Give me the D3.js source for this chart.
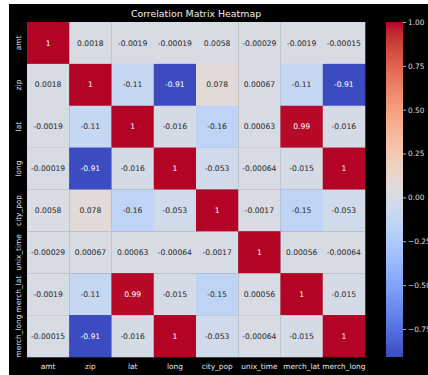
<!DOCTYPE html>
<html>
<head>
<meta charset="utf-8">
<script src="https://cdn.jsdelivr.net/npm/d3@7"></script>
<style>
  html, body { margin: 0; padding: 0; background: #ffffff; }
  svg { display: block; }
  text { font-family: "DejaVu Sans", sans-serif; }
</style>
</head>
<body>
<svg id="chart" width="428" height="375"></svg>
<script>
// Variables of the correlation matrix (rows and columns share the same order)
const variables = ["amt", "zip", "lat", "long", "city_pop", "unix_time", "merch_lat", "merch_long"];

// One row of correlation coefficients per variable
const amtRow       = [1, 0.0018, -0.0019, -0.00019, 0.0058, -0.00029, -0.0019, -0.00015];
const zipRow       = [0.0018, 1, -0.11, -0.91, 0.078, 0.00067, -0.11, -0.91];
const latRow       = [-0.0019, -0.11, 1, -0.016, -0.16, 0.00063, 0.99, -0.016];
const longRow      = [-0.00019, -0.91, -0.016, 1, -0.053, -0.00064, -0.015, 1];
const cityPopRow   = [0.0058, 0.078, -0.16, -0.053, 1, -0.0017, -0.15, -0.053];
const unixTimeRow  = [-0.00029, 0.00067, 0.00063, -0.00064, -0.0017, 1, 0.00056, -0.00064];
const merchLatRow  = [-0.0019, -0.11, 0.99, -0.015, -0.15, 0.00056, 1, -0.015];
const merchLongRow = [-0.00015, -0.91, -0.016, 1, -0.053, -0.00064, -0.015, 1];
const matrix = [amtRow, zipRow, latRow, longRow, cityPopRow, unixTimeRow, merchLatRow, merchLongRow];

// Colour bar tick values
const colorbarTicks = [-0.75, -0.5, -0.25, 0, 0.25, 0.5, 0.75, 1];

// Diverging "coolwarm" colour ramp
const coolwarmStops = [
  [59,76,192],[68,90,204],[77,104,215],[87,117,225],[98,130,234],[108,142,241],
  [119,154,247],[130,165,251],[141,176,254],[152,185,255],[163,194,255],[174,201,253],
  [184,208,249],[194,213,244],[204,217,238],[213,219,230],[221,221,221],[229,216,209],
  [236,211,197],[241,204,184],[245,196,172],[247,187,160],[247,177,148],[247,166,135],
  [244,154,123],[241,141,111],[236,127,99],[229,112,88],[222,96,77],[213,80,66],
  [203,62,56],[192,40,47],[180,4,38]
].map(c => d3.rgb(c[0], c[1], c[2]));
const coolwarm = d3.piecewise(d3.interpolateRgb, coolwarmStops);

const svg = d3.select("#chart");

// Figure background
svg.append("rect").attr("x", 9).attr("y", 4).attr("width", 419).attr("height", 371).attr("fill", "#000000");

const plotLeft = 27, plotRight = 365, plotTop = 22, plotBottom = 357;

const x = d3.scaleBand().domain(variables).range([plotLeft, plotRight]);
const y = d3.scaleBand().domain(variables).range([plotTop, plotBottom]);

const allValues = matrix.flat();
const vmin = d3.min(allValues), vmax = d3.max(allValues);
const color = d3.scaleSequential(coolwarm).domain([vmin, vmax]);

const cells = [];
matrix.forEach((row, i) => row.forEach((v, j) => cells.push({ r: variables[i], c: variables[j], v })));

function luminance(col) {
  const c = d3.rgb(col);
  const f = u => { u /= 255; return u <= 0.03928 ? u / 12.92 : Math.pow((u + 0.055) / 1.055, 2.4); };
  return 0.2126 * f(c.r) + 0.7152 * f(c.g) + 0.0722 * f(c.b);
}

const g = svg.append("g");
g.selectAll("rect.cell").data(cells).join("rect")
  .attr("class", "cell")
  .attr("x", d => x(d.c))
  .attr("y", d => y(d.r))
  .attr("width", x.bandwidth() + 0.3)
  .attr("height", y.bandwidth() + 0.3)
  .attr("fill", d => color(d.v));

g.selectAll("text.annot").data(cells).join("text")
  .attr("class", "annot")
  .attr("x", d => x(d.c) + x.bandwidth() / 2)
  .attr("y", d => y(d.r) + y.bandwidth() / 2)
  .attr("dy", "0.35em")
  .attr("text-anchor", "middle")
  .attr("font-size", 7.6)
  .attr("fill", d => luminance(color(d.v)) > 0.408 ? "#262626" : "#ffffff")
  .text(d => String(d.v));

// Axis labels
svg.append("g").selectAll("text").data(variables).join("text")
  .attr("x", d => x(d) + x.bandwidth() / 2)
  .attr("y", 369)
  .attr("text-anchor", "middle")
  .attr("font-size", 7.4)
  .attr("fill", "#e8e8e8")
  .text(d => d);

svg.append("g").selectAll("text").data(variables).join("text")
  .attr("transform", d => `translate(20.5,${y(d) + y.bandwidth() / 2}) rotate(-90)`)
  .attr("text-anchor", "middle")
  .attr("font-size", 7.4)
  .attr("fill", "#e8e8e8")
  .text(d => d);

// Title
svg.append("text")
  .attr("x", (plotLeft + plotRight) / 2)
  .attr("y", 17)
  .attr("text-anchor", "middle")
  .attr("font-size", 9.4)
  .attr("fill", "#f0f0f0")
  .text("Correlation Matrix Heatmap");

// Colour bar
const cbX = 386, cbW = 17;
const cbScale = d3.scaleLinear().domain([vmin, vmax]).range([plotBottom, plotTop]);
const defs = svg.append("defs");
const grad = defs.append("linearGradient").attr("id", "cbgrad")
  .attr("x1", 0).attr("y1", 1).attr("x2", 0).attr("y2", 0);
d3.range(0, 1.0001, 1 / 32).forEach(t => {
  grad.append("stop").attr("offset", t).attr("stop-color", coolwarm(t));
});
svg.append("rect")
  .attr("x", cbX).attr("y", plotTop)
  .attr("width", cbW).attr("height", plotBottom - plotTop)
  .attr("fill", "url(#cbgrad)");

const cbAxis = d3.axisRight(cbScale)
  .tickValues(colorbarTicks)
  .tickFormat(d3.format(".2f"))
  .tickSize(3)
  .tickPadding(2);
const cbG = svg.append("g").attr("transform", `translate(${cbX + cbW},0)`).call(cbAxis);
cbG.select(".domain").remove();
cbG.selectAll(".tick line").attr("stroke", "#dddddd").attr("stroke-width", 0.8);
cbG.selectAll(".tick text").attr("fill", "#dddddd").attr("font-size", 7.4)
  .attr("font-family", "DejaVu Sans, sans-serif");
</script>
</body>
</html>
